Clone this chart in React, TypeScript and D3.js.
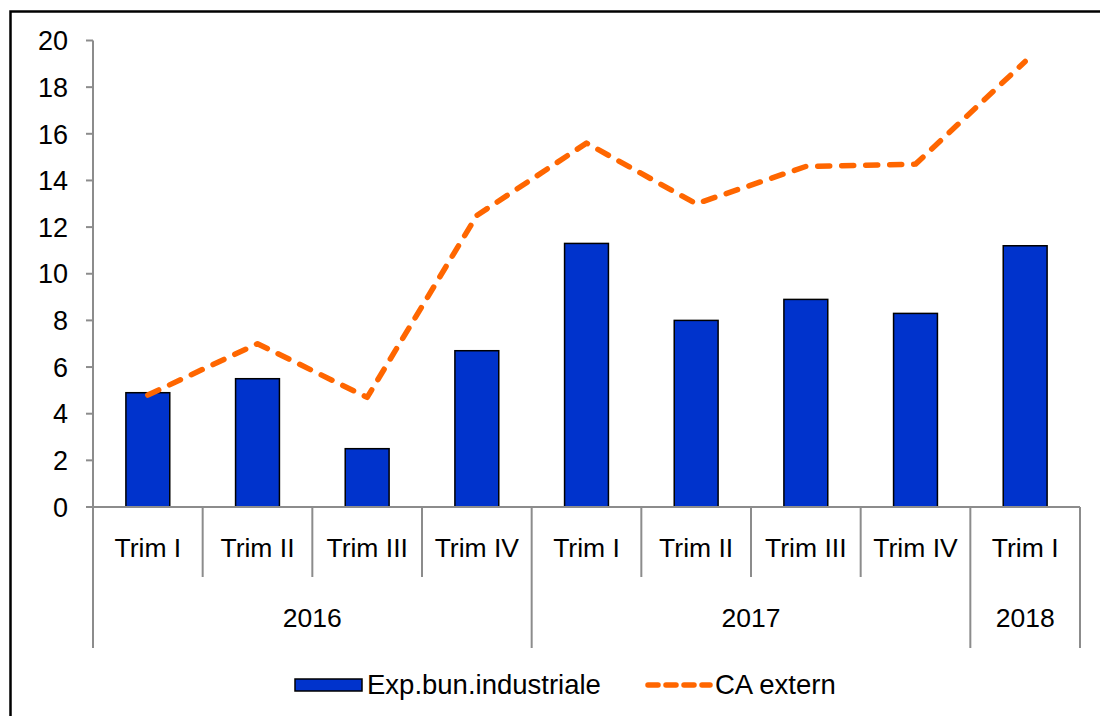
import * as d3 from 'd3';
import React, { useEffect, useRef } from 'react';

const quarters = ['Trim I', 'Trim II', 'Trim III', 'Trim IV', 'Trim I', 'Trim II', 'Trim III', 'Trim IV', 'Trim I'];
const years = [
    { label: '2016', from: 0, to: 4 },
    { label: '2017', from: 4, to: 8 },
    { label: '2018', from: 8, to: 9 }
];
const exports = [4.9, 5.5, 2.5, 6.7, 11.3, 8.0, 8.9, 8.3, 11.2];
const caExtern = [4.8, 7.0, 4.7, 12.5, 15.6, 13.0, 14.6, 14.7, 19.1];
const yTicks = [0, 2, 4, 6, 8, 10, 12, 14, 16, 18, 20];
const seriesNames = ['Exp.bun.industriale', 'CA extern'];

const font = 'Liberation Sans, Arial, sans-serif';
const axisColor = '#8c8c8c';
const barColor = '#0033cc';
const lineColor = '#ff6600';

export default function App() {
    const ref = useRef<SVGSVGElement>(null);

    useEffect(() => {
        const svg = d3.select(ref.current);
        svg.selectAll('*').remove();

        const left = 93, right = 1080, top = 40.5, bottom = 507;
        const idx = quarters.map((_, i) => i);

        const x = d3.scaleBand<number>()
            .domain(idx)
            .range([left, right])
            .padding(0);

        const y = d3.scaleLinear()
            .domain([0, 20])
            .range([bottom, top]);

        // outer frame
        svg.append('rect')
            .attr('x', 10.5)
            .attr('y', 11.5)
            .attr('width', 1120)
            .attr('height', 740)
            .style('fill', 'none')
            .style('stroke', '#000')
            .style('stroke-width', 2.5);

        // y axis
        svg.append('line')
            .attr('x1', left).attr('x2', left)
            .attr('y1', y(20)).attr('y2', bottom)
            .style('stroke', axisColor)
            .style('stroke-width', 2);

        const yt = svg.append('g');
        yt.selectAll('line')
            .data(yTicks)
            .enter()
            .append('line')
            .attr('x1', left - 7).attr('x2', left)
            .attr('y1', d => y(d)).attr('y2', d => y(d))
            .style('stroke', axisColor)
            .style('stroke-width', 2);
        yt.selectAll('text')
            .data(yTicks)
            .enter()
            .append('text')
            .attr('x', 68)
            .attr('y', d => y(d))
            .attr('dy', '0.36em')
            .attr('text-anchor', 'end')
            .style('font-family', font)
            .style('font-size', '27px')
            .text(d => d);

        // bars
        const bw = x.bandwidth() * 0.4;
        svg.append('g')
            .selectAll('rect')
            .data(exports)
            .enter()
            .append('rect')
            .attr('x', (d, i) => x(i)! + x.bandwidth() / 2 - bw / 2)
            .attr('y', d => y(d))
            .attr('width', bw)
            .attr('height', d => bottom - y(d))
            .style('fill', barColor)
            .style('stroke', '#000')
            .style('stroke-width', 1.5);

        // x axis
        svg.append('line')
            .attr('x1', left - 7).attr('x2', right)
            .attr('y1', bottom).attr('y2', bottom)
            .style('stroke', axisColor)
            .style('stroke-width', 2);

        const bounds = d3.range(quarters.length + 1);
        const yearEdges = new Set(years.flatMap(g => [g.from, g.to]));
        svg.append('g')
            .selectAll('line')
            .data(bounds)
            .enter()
            .append('line')
            .attr('x1', d => (d < quarters.length ? x(d)! : right))
            .attr('x2', d => (d < quarters.length ? x(d)! : right))
            .attr('y1', bottom)
            .attr('y2', d => (yearEdges.has(d) ? 648 : 577))
            .style('stroke', axisColor)
            .style('stroke-width', 2);

        svg.append('g')
            .selectAll('text')
            .data(quarters)
            .enter()
            .append('text')
            .attr('x', (d, i) => x(i)! + x.bandwidth() / 2)
            .attr('y', 557)
            .attr('text-anchor', 'middle')
            .style('font-family', font)
            .style('font-size', '26.5px')
            .text(d => d);

        const edge = (i: number) => (i < quarters.length ? x(i)! : right);
        svg.append('g')
            .selectAll('text')
            .data(years)
            .enter()
            .append('text')
            .attr('x', d => (edge(d.from) + edge(d.to)) / 2)
            .attr('y', 627)
            .attr('text-anchor', 'middle')
            .style('font-family', font)
            .style('font-size', '26.5px')
            .text(d => d.label);

        // line
        const line = d3.line<number>()
            .x((d, i) => x(i)! + x.bandwidth() / 2)
            .y(d => y(d));

        svg.append('path')
            .attr('d', line(caExtern))
            .style('fill', 'none')
            .style('stroke', lineColor)
            .style('stroke-width', 5.5)
            .style('stroke-dasharray', '12 12')
            .style('stroke-linecap', 'round')
            .style('stroke-linejoin', 'round');

        // legend
        const lg = svg.append('g');
        lg.append('rect')
            .attr('x', 295).attr('y', 679)
            .attr('width', 67).attr('height', 12)
            .style('fill', barColor)
            .style('stroke', '#000')
            .style('stroke-width', 1.5);
        lg.append('text')
            .attr('x', 367).attr('y', 694)
            .style('font-family', font)
            .style('font-size', '27.5px')
            .text(seriesNames[0]);
        lg.append('line')
            .attr('x1', 648).attr('x2', 710)
            .attr('y1', 685).attr('y2', 685)
            .style('stroke', lineColor)
            .style('stroke-width', 5.5)
            .style('stroke-dasharray', '10 8')
            .style('stroke-linecap', 'round');
        lg.append('text')
            .attr('x', 715).attr('y', 694)
            .style('font-family', font)
            .style('font-size', '27.5px')
            .text(seriesNames[1]);
    }, []);

    return (
        <svg
            ref={ref}
            width={1100}
            height={716}
            style={{ position: 'absolute', left: 0, top: 0, background: '#fff' }}
        />
    );
}
